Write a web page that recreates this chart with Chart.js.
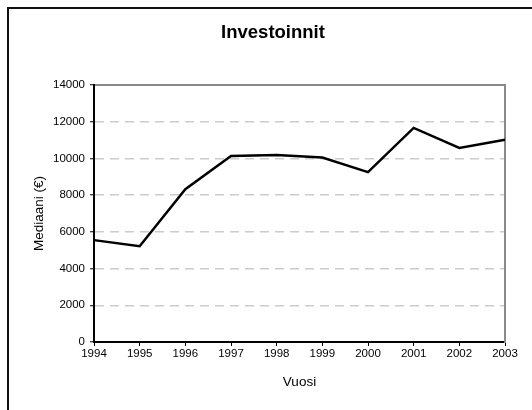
<!DOCTYPE html>
<html>
<head>
<meta charset="utf-8">
<script src="https://cdn.jsdelivr.net/npm/chart.js@4"></script>
<style>
  html, body { margin: 0; padding: 0; background: #fff; }
  #page { position: relative; width: 532px; height: 410px; overflow: hidden; background: #fff; }
  #frame { position: absolute; left: 7px; top: 7px; width: 600px; height: 420px;
           border-left: 2px solid #111; border-top: 2px solid #111; }
  #wrap { position: absolute; left: 0px; top: 0px; width: 528px; height: 401px; }
</style>
</head>
<body>
<div id="page"><div id="frame"><div id="wrap"><canvas id="invChart"></canvas></div></div></div>
<script>
// data
const years = ['1994', '1995', '1996', '1997', '1998', '1999', '2000', '2001', '2002', '2003'];
const medianValues = [5550, 5220, 8320, 10130, 10190, 10050, 9250, 11660, 10570, 11020];
const yTicks = [0, 2000, 4000, 6000, 8000, 10000, 12000, 14000];

const fontFam = "'Liberation Sans', Arial, sans-serif";

const ctx = document.getElementById('invChart');
new Chart(ctx, {
  type: 'line',
  data: {
    labels: years,
    datasets: [{
      label: 'Mediaani',
      data: medianValues,
      borderColor: '#000',
      borderWidth: 2.5,
      pointRadius: 0,
      tension: 0,
      fill: false,
    }],
  },
  options: {
    responsive: true,
    maintainAspectRatio: false,
    animation: false,
    events: [],
    layout: { padding: 0 },
    plugins: {
      legend: { display: false },
      tooltip: { enabled: false },
      title: {
        display: true,
        text: 'Investoinnit',
        color: '#000',
        font: { family: fontFam, size: 18.5, weight: 'bold' },
        padding: { top: 12.5, bottom: 41.3 },
      },
    },
    scales: {
      x: {
        type: 'category',
        position: 'bottom',
        offset: false,
        grid: { drawOnChartArea: false, drawTicks: true, tickLength: 4, tickColor: '#000', tickWidth: 1 },
        border: { color: '#000', width: 2 },
        ticks: { color: '#000', font: { family: fontFam, size: 11.5 }, padding: 1, maxRotation: 0, autoSkip: false },
        title: { display: true, text: 'Vuosi', color: '#000', font: { family: fontFam, size: 13.5 }, padding: { top: 0, bottom: 20 } },
        afterFit(scale) { scale.height = 68; },
      },
      x2: {
        type: 'category',
        position: 'top',
        grid: { display: false },
        ticks: { display: false },
        border: { color: '#8a8a8a', width: 2 },
        afterFit(scale) { scale.height = 0; },
      },
      y: {
        position: 'left',
        min: 0,
        max: 14000,
        afterBuildTicks(scale) { scale.ticks = yTicks.map(v => ({ value: v })); },
        grid: {
          color: (c) => (c.tick && (c.tick.value === 0 || c.tick.value === 14000)) ? 'rgba(0,0,0,0)' : '#cccccc',
          lineWidth: 1.5,
          tickLength: 4,
          tickColor: '#000',
          tickWidth: 1,
          tickBorderDash: [],
        },
        border: { color: '#000', width: 2, dash: [9, 6] },
        ticks: { color: '#000', font: { family: fontFam, size: 11.5 }, padding: 5, callback: (v) => String(v) },
        title: { display: true, text: 'Mediaani (€)', color: '#000', font: { family: fontFam, size: 13.5 }, padding: { top: 22, bottom: 0 } },
        afterFit(scale) { scale.width = 85; },
      },
      y2: {
        position: 'right',
        grid: { display: false },
        ticks: { display: false },
        border: { color: '#8a8a8a', width: 2 },
        afterFit(scale) { scale.width = 32; },
      },
    },
  },
});
</script>
</body>
</html>
